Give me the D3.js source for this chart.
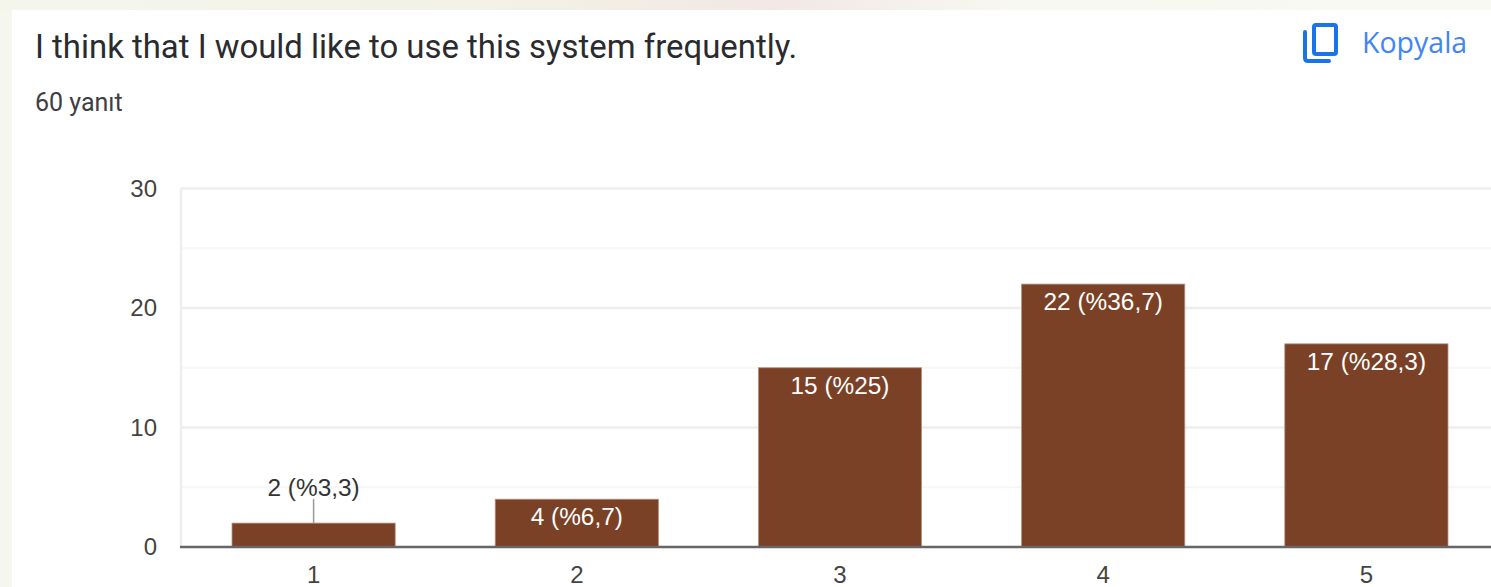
<!DOCTYPE html>
<html>
<head>
<meta charset="utf-8">
<script src="https://cdnjs.cloudflare.com/ajax/libs/d3/7.8.5/d3.min.js"></script>
<style>
  html, body { margin: 0; padding: 0; background: #f6f8f0; overflow: hidden; }
  svg { display: block; }
</style>
</head>
<body>
<svg id="chart" width="1491" height="587"></svg>
<script>
const categories = ["1", "2", "3", "4", "5"];
const counts = [2, 4, 15, 22, 17];
const percentLabels = ["%3,3", "%6,7", "%25", "%36,7", "%28,3"];
const majorTicks = [0, 10, 20, 30];
const minorTicks = [5, 15, 25];
const titleText = "I think that I would like to use this system frequently.";
const responsesText = "60 yanıt";
const copyText = "Kopyala";

const svg = d3.select("#chart");
const axisFont = "'Liberation Sans', Arial, sans-serif";
const labelSize = 24.4;

// Page backdrop with its faint warm wash along the top edge
const wash = svg.append("defs").append("linearGradient").attr("id", "wash");
[[0, "#f4f6ec"], [0.35, "#f3f1e5"], [0.52, "#f3e7e3"], [0.68, "#f7f8f1"], [1, "#f8faf2"]]
  .forEach(([offset, color]) => wash.append("stop").attr("offset", offset).attr("stop-color", color));
svg.append("rect").attr("width", 1491).attr("height", 587).attr("fill", "#f5f7ee");
svg.append("rect").attr("width", 1491).attr("height", 10).attr("fill", "url(#wash)");

// Form card behind the chart
svg.append("rect").attr("x", 12).attr("y", 10).attr("width", 1479).attr("height", 577).attr("fill", "#ffffff");

svg.append("text").attr("x", 35).attr("y", 58)
  .attr("font-family", "Roboto, sans-serif").attr("font-size", 32.9).attr("fill", "#2a2b2e")
  .text(titleText);
svg.append("text").attr("x", 35).attr("y", 111)
  .attr("font-family", "Roboto, sans-serif").attr("font-size", 25).attr("fill", "#3c4043")
  .text(responsesText);

// Copy button: two overlapping sheets and its label
const copyIcon = svg.append("g").attr("fill", "none").attr("stroke", "#1a73e8").attr("stroke-width", 4);
copyIcon.append("rect").attr("x", 1314).attr("y", 25).attr("width", 22).attr("height", 29).attr("rx", 2);
copyIcon.append("path").attr("d", "M1305 32 V58 Q1305 61 1308 61 H1329").attr("stroke-linecap", "round");
svg.append("text").attr("x", 1362).attr("y", 53)
  .attr("font-family", "'Open Sans', sans-serif").attr("font-size", 28.5).attr("font-weight", 500)
  .attr("fill", "#4285f4").text(copyText);

const x = d3.scaleBand().domain(categories).range([182, 1498]).paddingInner(0.38).paddingOuter(0.19);
const y = d3.scaleLinear().domain([0, 30]).range([547, 188.5]);

// Grid lines
svg.append("g").selectAll("line").data(minorTicks).join("line")
  .attr("x1", 181).attr("x2", 1491).attr("y1", d => y(d)).attr("y2", d => y(d))
  .attr("stroke", "#f6f6f6").attr("stroke-width", 2);
svg.append("g").selectAll("line").data(majorTicks.filter(d => d > 0)).join("line")
  .attr("x1", 181).attr("x2", 1491).attr("y1", d => y(d)).attr("y2", d => y(d))
  .attr("stroke", "#eeeeee").attr("stroke-width", 2.5);
svg.append("line").attr("x1", 181).attr("x2", 181).attr("y1", y(30)).attr("y2", y(0))
  .attr("stroke", "#eeeeee").attr("stroke-width", 2.5);

// Value axis labels
const yAxis = svg.append("g").attr("transform", "translate(181,0)")
  .call(d3.axisLeft(y).tickValues(majorTicks).tickSize(0).tickPadding(24));
yAxis.select(".domain").remove();
yAxis.selectAll("text").attr("font-family", axisFont).attr("font-size", 24).attr("fill", "#444444");

// Bars with a soft lighter rim
svg.append("g").selectAll("rect").data(counts).join("rect")
  .attr("x", (d, i) => x(categories[i]))
  .attr("y", d => y(d))
  .attr("width", x.bandwidth())
  .attr("height", d => y(0) - y(d))
  .attr("fill", "#7b4126")
  .attr("stroke", "#b3917f").attr("stroke-width", 0.8);

// Baseline and category labels
svg.append("line").attr("x1", 180).attr("x2", 1491).attr("y1", y(0)).attr("y2", y(0))
  .attr("stroke", "#666666").attr("stroke-width", 2.5);
const xAxis = svg.append("g").attr("transform", `translate(0,${y(0)})`)
  .call(d3.axisBottom(x).tickSize(0).tickPadding(19));
xAxis.select(".domain").remove();
xAxis.selectAll("text").attr("font-family", axisFont).attr("font-size", 24).attr("fill", "#444444");

// Value labels: inside tall bars, above short bars with a leader line
const isShort = d => y(0) - y(d) < 30;
svg.append("g").selectAll("line").data(counts.filter(isShort)).join("line")
  .attr("x1", d => x(categories[counts.indexOf(d)]) + x.bandwidth() / 2)
  .attr("x2", d => x(categories[counts.indexOf(d)]) + x.bandwidth() / 2)
  .attr("y1", d => y(d))
  .attr("y2", d => y(d) - 24)
  .attr("stroke", "#999999").attr("stroke-width", 1.5);
svg.append("g").selectAll("text").data(counts).join("text")
  .attr("x", (d, i) => x(categories[i]) + x.bandwidth() / 2)
  .attr("y", d => isShort(d) ? y(d) - 27 : y(d) + 26)
  .attr("text-anchor", "middle")
  .attr("font-family", axisFont).attr("font-size", labelSize)
  .attr("fill", d => isShort(d) ? "#333333" : "#ffffff")
  .text((d, i) => `${d} (${percentLabels[i]})`);
</script>
</body>
</html>
